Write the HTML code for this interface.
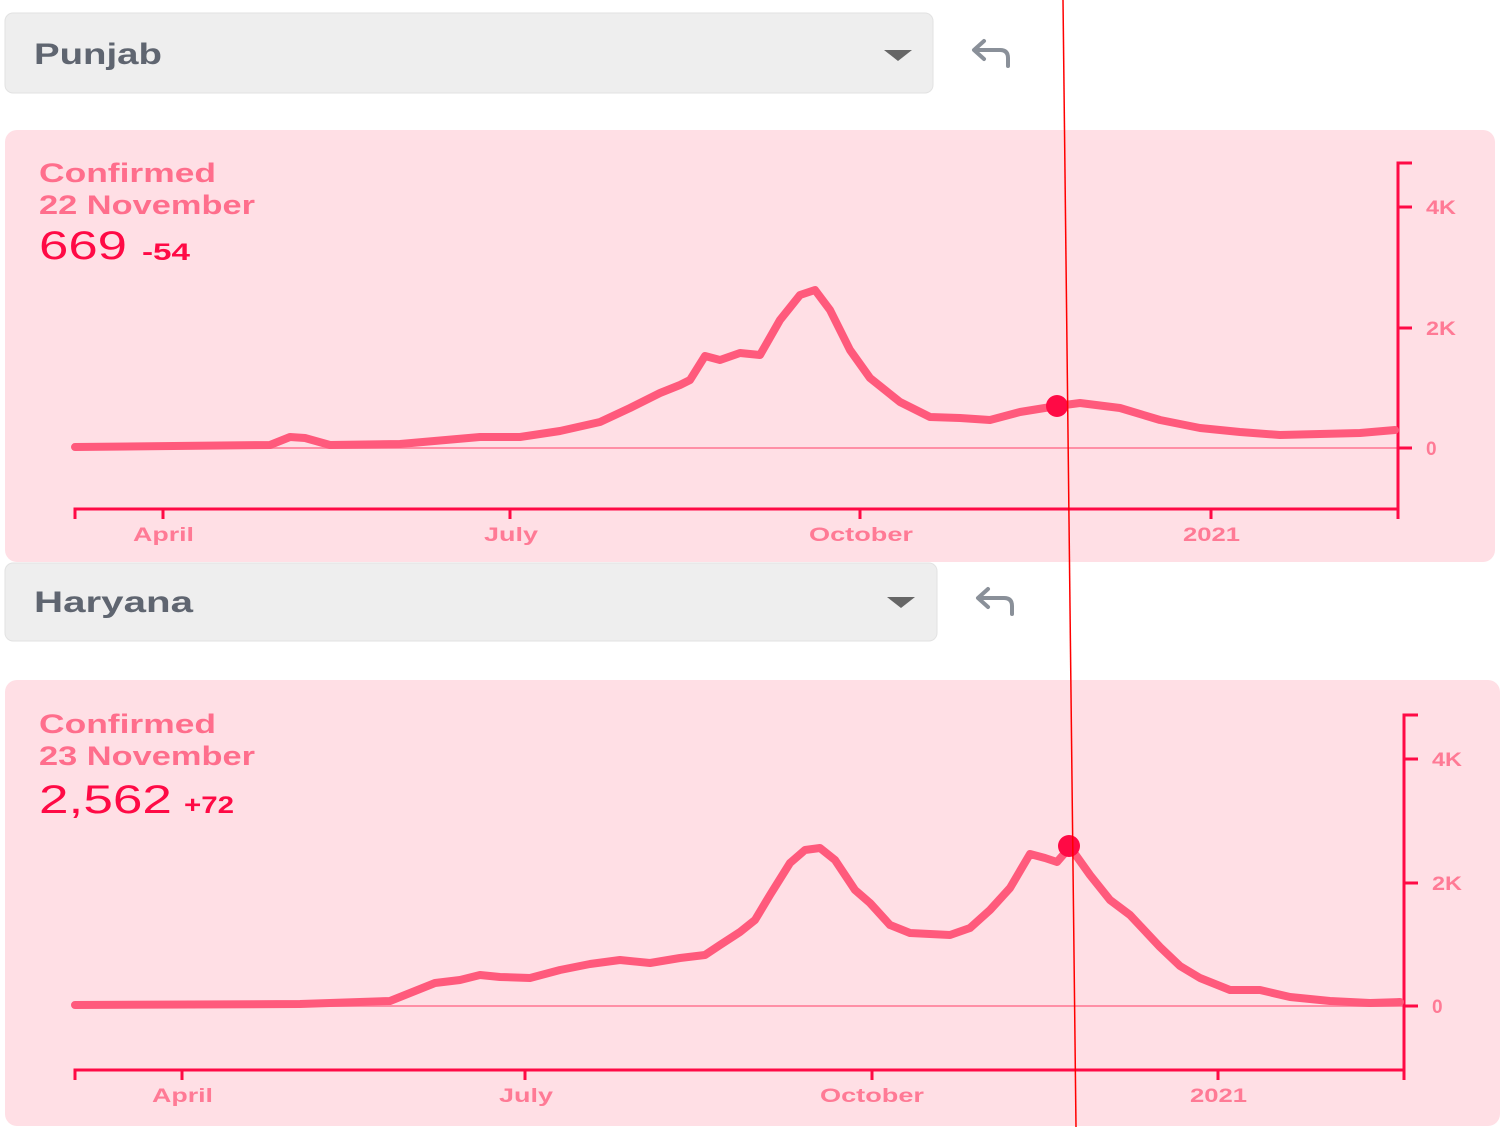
<!DOCTYPE html>
<html><head><meta charset="utf-8"><style>
html,body{margin:0;padding:0;background:#fff;width:1502px;height:1127px;overflow:hidden}
svg{display:block;font-family:"Liberation Sans",sans-serif}
</style></head><body>
<svg width="1502" height="1127" viewBox="0 0 1502 1127">
<rect x="5" y="13" width="928" height="80" rx="8" fill="#eeeeee" stroke="#e2e2e2"/>
<text x="34" y="64" font-size="30" font-weight="bold" fill="#5f6570" textLength="128" lengthAdjust="spacingAndGlyphs">Punjab</text>
<polygon points="884,50 912,50 898,61" fill="#666"/>
<path d="M1008,66 L1008,58 Q1008,50 1000,50 L975,50 M984,41 L974,50 L984,59" fill="none" stroke="#8a9099" stroke-width="4" stroke-linecap="round" stroke-linejoin="round"/>
<rect x="5" y="130" width="1490" height="432" rx="12" fill="#ffdfe5"/>
<text x="39" y="182" font-size="27" font-weight="bold" fill="#ff6e8c" textLength="177" lengthAdjust="spacingAndGlyphs">Confirmed</text>
<text x="39" y="214" font-size="27" font-weight="bold" fill="#ff6e8c" textLength="216" lengthAdjust="spacingAndGlyphs">22 November</text>
<text x="39" y="259" font-size="40" fill="#ff0a45" textLength="88" lengthAdjust="spacingAndGlyphs">669</text>
<text x="142" y="260" font-size="24" font-weight="bold" fill="#ff0a45" textLength="48" lengthAdjust="spacingAndGlyphs">-54</text>
<line x1="75" y1="448" x2="1398" y2="448" stroke="#ff8fa6" stroke-width="2"/>
<g stroke="#ff0a45" stroke-width="3" fill="none">
<path d="M75,519 L75,509 L1398,509 L1398,519"/>
<path d="M1412,163 L1398,163 L1398,509"/>
<path d="M1398,207 L1412,207 M1398,328 L1412,328 M1398,448 L1412,448"/>
<path d="M163,509 L163,519 M510,509 L510,519 M860,509 L860,519 M1211,509 L1211,519"/>
</g>
<g font-size="19" font-weight="bold" fill="#ff7a95" lengthAdjust="spacingAndGlyphs">
<text x="1426" y="214" textLength="30" lengthAdjust="spacingAndGlyphs">4K</text><text x="1426" y="335" textLength="30" lengthAdjust="spacingAndGlyphs">2K</text><text x="1426" y="455">0</text>
<text x="133" y="541" textLength="61" lengthAdjust="spacingAndGlyphs">April</text>
<text x="484" y="541" textLength="54" lengthAdjust="spacingAndGlyphs">July</text>
<text x="809" y="541" textLength="104" lengthAdjust="spacingAndGlyphs">October</text>
<text x="1183" y="541" textLength="57" lengthAdjust="spacingAndGlyphs">2021</text>
</g>
<polyline fill="none" stroke="#ff5a7c" stroke-width="8" stroke-linejoin="round" stroke-linecap="round" points="75,447 270,445 290,437 305,438 330,445 400,444 480,437 520,437 560,431 600,422 630,408 660,393 680,385 690,380 705,356 720,360 740,353 760,355 780,320 800,295 815,290 830,310 850,350 870,378 900,402 930,417 960,418 990,420 1020,412 1057,406 1080,403 1120,408 1160,420 1200,428 1240,432 1280,435 1320,434 1360,433 1395,430"/>
<circle cx="1057" cy="406" r="11" fill="#ff0a45"/>
<rect x="5" y="563" width="932" height="78" rx="8" fill="#eeeeee" stroke="#e2e2e2"/>
<text x="34" y="612" font-size="30" font-weight="bold" fill="#5f6570" textLength="159" lengthAdjust="spacingAndGlyphs">Haryana</text>
<polygon points="887,597 915,597 901,608" fill="#666"/>
<path d="M1012,614 L1012,606 Q1012,598 1004,598 L979,598 M988,589 L978,598 L988,607" fill="none" stroke="#8a9099" stroke-width="4" stroke-linecap="round" stroke-linejoin="round"/>
<rect x="5" y="680" width="1495" height="446" rx="12" fill="#ffdfe5"/>
<text x="39" y="733" font-size="27" font-weight="bold" fill="#ff6e8c" textLength="177" lengthAdjust="spacingAndGlyphs">Confirmed</text>
<text x="39" y="765" font-size="27" font-weight="bold" fill="#ff6e8c" textLength="216" lengthAdjust="spacingAndGlyphs">23 November</text>
<text x="39" y="813" font-size="40" fill="#ff0a45" textLength="133" lengthAdjust="spacingAndGlyphs">2,562</text>
<text x="184" y="813" font-size="24" font-weight="bold" fill="#ff0a45" textLength="50" lengthAdjust="spacingAndGlyphs">+72</text>
<line x1="75" y1="1006" x2="1404" y2="1006" stroke="#ff8fa6" stroke-width="2"/>
<g stroke="#ff0a45" stroke-width="3" fill="none">
<path d="M75,1080 L75,1070 L1404,1070 L1404,1080"/>
<path d="M1418,715 L1404,715 L1404,1070"/>
<path d="M1404,759 L1418,759 M1404,883 L1418,883 M1404,1006 L1418,1006"/>
<path d="M182,1070 L182,1080 M525,1070 L525,1080 M872,1070 L872,1080 M1218,1070 L1218,1080"/>
</g>
<g font-size="19" font-weight="bold" fill="#ff7a95">
<text x="1432" y="766" textLength="30" lengthAdjust="spacingAndGlyphs">4K</text><text x="1432" y="890" textLength="30" lengthAdjust="spacingAndGlyphs">2K</text><text x="1432" y="1013">0</text>
<text x="152" y="1102" textLength="61" lengthAdjust="spacingAndGlyphs">April</text>
<text x="499" y="1102" textLength="54" lengthAdjust="spacingAndGlyphs">July</text>
<text x="820" y="1102" textLength="104" lengthAdjust="spacingAndGlyphs">October</text>
<text x="1190" y="1102" textLength="57" lengthAdjust="spacingAndGlyphs">2021</text>
</g>
<polyline fill="none" stroke="#ff5a7c" stroke-width="8" stroke-linejoin="round" stroke-linecap="round" points="75,1005 300,1004 390,1001 410,993 435,983 460,980 480,975 500,977 530,978 560,970 590,964 620,960 650,963 680,958 705,955 720,945 740,932 755,920 770,895 790,863 805,850 820,848 835,860 855,890 870,903 890,925 910,933 950,935 970,928 990,910 1010,888 1030,854 1045,858 1057,862 1070,847 1090,875 1110,900 1130,915 1160,947 1180,966 1200,978 1230,990 1260,990 1290,997 1330,1001 1370,1003 1400,1002"/>
<circle cx="1069" cy="846" r="11" fill="#ff0a45"/>
<line x1="1063" y1="0" x2="1076" y2="1127" stroke="#ff0000" stroke-width="1.5"/>
</svg>
</body></html>
